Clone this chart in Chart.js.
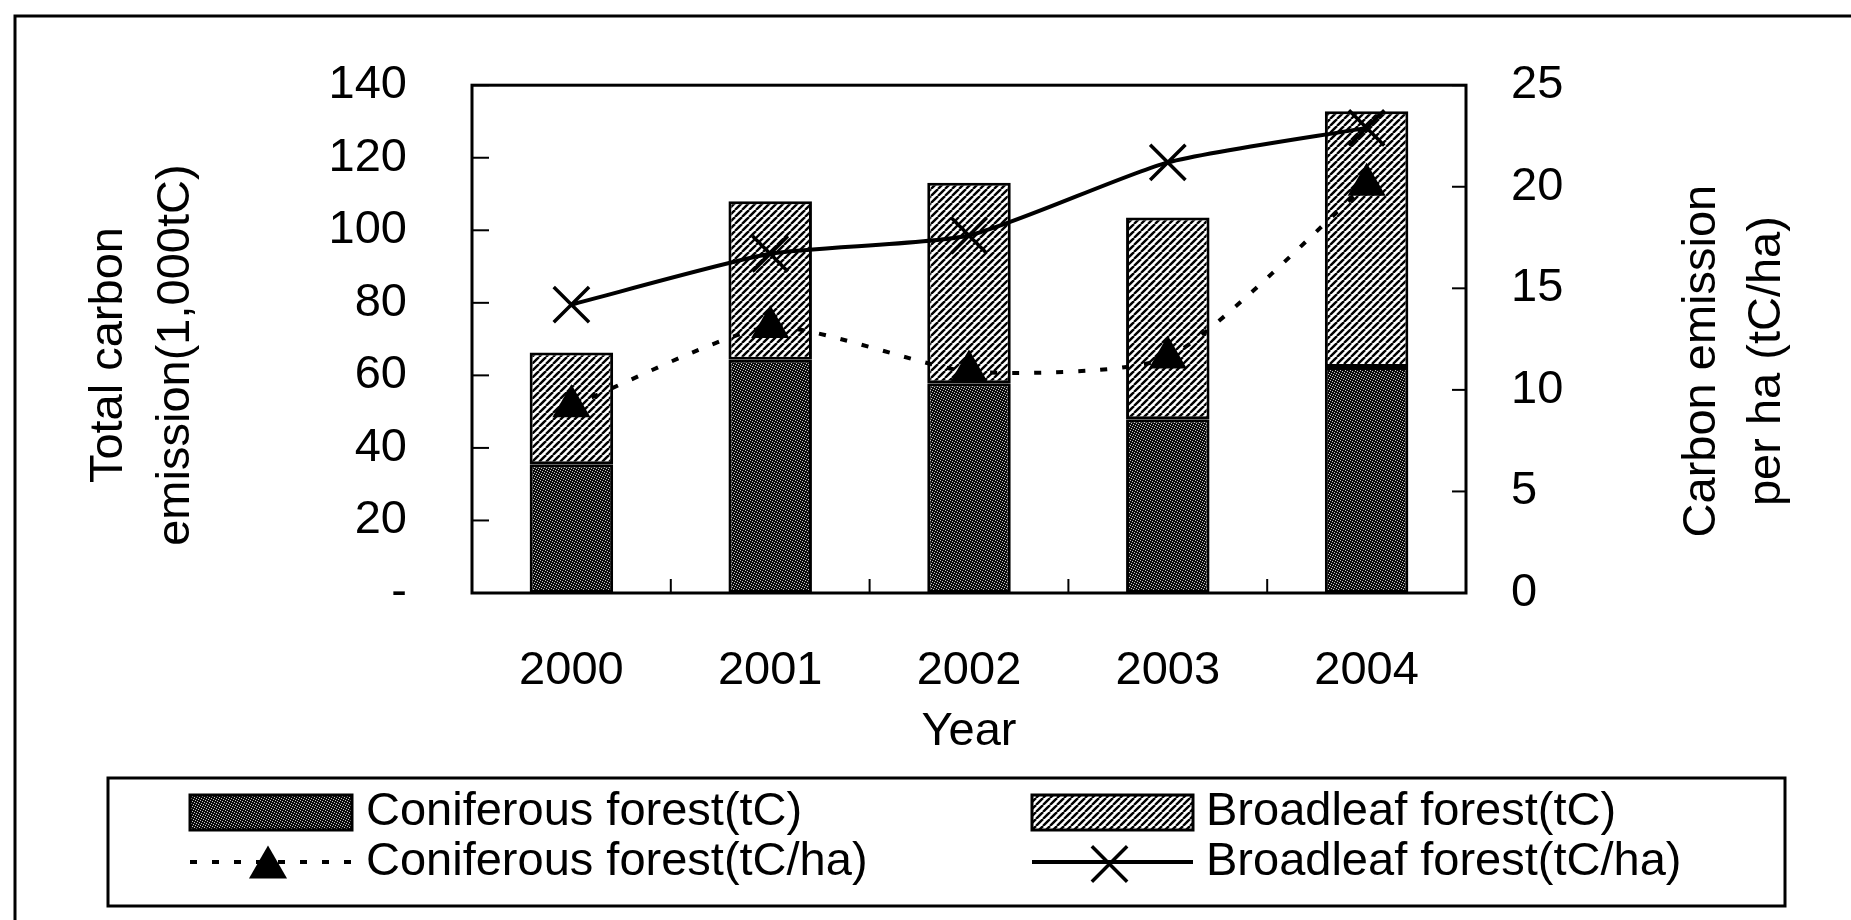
<!DOCTYPE html>
<html>
<head>
<meta charset="utf-8">
<script src="https://cdn.jsdelivr.net/npm/chart.js@4.4.1/dist/chart.umd.min.js"></script>
<style>
  html, body { margin: 0; padding: 0; background: #fff; }
  #wrap { position: relative; width: 1851px; height: 920px; }
</style>
</head>
<body>
<div id="wrap"><canvas id="c"></canvas></div>
<script>
// ---------- data ----------
const years = ['2000', '2001', '2002', '2003', '2004'];
const coniferousTotal = [35.5, 64.3, 57.8, 47.9, 62.3];   // 1,000 tC
const broadleafTotal  = [30.8, 43.7, 55.3, 55.6, 70.5];   // 1,000 tC
const coniferousPerHa = [9.2, 13.1, 10.9, 11.6, 20.1];    // tC/ha
const broadleafPerHa  = [14.2, 16.7, 17.6, 21.2, 22.9];   // tC/ha
const leftTickLabels  = ['-', '20', '40', '60', '80', '100', '120', '140'];
const rightTickLabels = ['0', '5', '10', '15', '20', '25'];
const seriesLabels = ['Coniferous forest(tC)', 'Broadleaf forest(tC)',
                      'Coniferous forest(tC/ha)', 'Broadleaf forest(tC/ha)'];
const leftTitle  = ['Total carbon', 'emission(1,000tC)'];
const rightTitle = ['Carbon emission', 'per ha (tC/ha)'];
const xTitle = 'Year';

// ---------- styles ----------
const FONT = "'Liberation Sans', Arial, Helvetica, sans-serif";
const FS = 47;

function makeStipple() {
  const c = document.createElement('canvas');
  c.width = 5; c.height = 5;
  const g = c.getContext('2d');
  g.fillStyle = '#0c0c0c'; g.fillRect(0, 0, 5, 5);
  g.fillStyle = '#c8c8c8';
  [[0,0],[2,1],[4,2],[1,3],[3,4]].forEach(p => g.fillRect(p[0], p[1], 1, 1));
  return g.createPattern(c, 'repeat');
}
function makeHatch() {
  const s = 7;
  const c = document.createElement('canvas');
  c.width = s; c.height = s;
  const g = c.getContext('2d');
  g.fillStyle = '#fff'; g.fillRect(0, 0, s, s);
  g.strokeStyle = '#000'; g.lineWidth = 2.4;
  for (let k = -1; k <= 1; k++) {
    g.beginPath(); g.moveTo(k * s, s); g.lineTo(k * s + s, 0); g.stroke();
  }
  return g.createPattern(c, 'repeat');
}
const stipple = makeStipple();
const hatch = makeHatch();

function line(ctx, x1, y1, x2, y2) {
  ctx.beginPath(); ctx.moveTo(x1, y1); ctx.lineTo(x2, y2); ctx.stroke();
}
function vtext(ctx, lines, xs, yc) {
  ctx.font = FS + 'px ' + FONT;
  ctx.fillStyle = '#000';
  ctx.textAlign = 'center';
  ctx.textBaseline = 'middle';
  lines.forEach((t, i) => {
    ctx.save(); ctx.translate(xs[i], yc); ctx.rotate(-Math.PI / 2);
    ctx.fillText(t, 0, 0); ctx.restore();
  });
}

const decor = {
  id: 'decor',
  beforeDraw(chart) {
    const ctx = chart.ctx;
    ctx.save(); ctx.fillStyle = '#fff'; ctx.fillRect(0, 0, chart.width, chart.height); ctx.restore();
  },
  afterDraw(chart) {
    const { ctx, chartArea: a, scales } = chart;
    const ds = chart.data.datasets;
    ctx.save();
    ctx.strokeStyle = '#000';
    ctx.setLineDash([]);
    // outer frame
    ctx.lineWidth = 3;
    ctx.beginPath(); ctx.moveTo(15, chart.height); ctx.lineTo(15, 16); ctx.lineTo(chart.width, 16); ctx.stroke();
    // plot box
    ctx.lineWidth = 3;
    ctx.strokeRect(a.left, a.top, a.right - a.left, a.bottom - a.top);
    // inward ticks
    ctx.lineWidth = 2;
    scales.y.ticks.forEach(t => { const py = scales.y.getPixelForValue(t.value); line(ctx, a.left, py, a.left + 17, py); });
    scales.y2.ticks.forEach(t => { const py = scales.y2.getPixelForValue(t.value); line(ctx, a.right - 14, py, a.right, py); });
    for (let i = 0; i < years.length - 1; i++) {
      const px = (scales.x.getPixelForValue(i) + scales.x.getPixelForValue(i + 1)) / 2;
      line(ctx, px, a.bottom, px, a.bottom - 14);
    }
    // axis titles
    const yc = (a.top + a.bottom) / 2;
    vtext(ctx, leftTitle, [109, 176], yc + 16);
    vtext(ctx, rightTitle, [1702, 1767], yc + 22);

    // legend
    ctx.lineWidth = 3;
    ctx.strokeRect(108, 778, 1785 - 108, 906 - 778);
    const rows = [812, 862];
    const cols = [{ x: 190, w: 162, tx: 366 }, { x: 1032, w: 161, tx: 1206 }];
    // bar swatches
    [0, 1].forEach(i => {
      const c = cols[i];
      ctx.fillStyle = ds[i].backgroundColor;
      ctx.fillRect(c.x, 795, c.w, 35);
      ctx.lineWidth = 3; ctx.strokeStyle = '#000';
      ctx.strokeRect(c.x, 795, c.w, 35);
    });
    // line swatches
    [2, 3].forEach((di, j) => {
      const c = cols[j];
      const d = ds[di];
      ctx.save();
      ctx.strokeStyle = d.borderColor;
      ctx.lineWidth = d.borderWidth;
      ctx.setLineDash(d.borderDash || []);
      line(ctx, c.x, rows[1], c.x + c.w, rows[1]);
      ctx.restore();
      ctx.save();
      ctx.fillStyle = d.pointBackgroundColor;
      ctx.strokeStyle = d.pointBorderColor;
      ctx.lineWidth = d.pointBorderWidth;
      const cx = c.x + c.w / 2 - 3;
      const cy = rows[1] + (d.pointStyle === 'triangle' ? d.pointRadius / 4 : 2);
      Chart.helpers.drawPoint(ctx, { pointStyle: d.pointStyle, radius: d.pointRadius, rotation: 0, borderWidth: d.pointBorderWidth }, cx, cy);
      ctx.restore();
    });
    // legend text
    ctx.font = FS + 'px ' + FONT;
    ctx.fillStyle = '#000';
    ctx.textAlign = 'left';
    ctx.textBaseline = 'middle';
    ctx.fillText(ds[0].label, cols[0].tx, rows[0]);
    ctx.fillText(ds[1].label, cols[1].tx, rows[0]);
    ctx.fillText(ds[2].label, cols[0].tx, rows[1]);
    ctx.fillText(ds[3].label, cols[1].tx, rows[1]);
    ctx.restore();
  }
};

const tickFont = { family: FONT, size: FS };

new Chart(document.getElementById('c'), {
  data: {
    labels: years,
    datasets: [
      { type: 'bar', label: seriesLabels[0], data: coniferousTotal, yAxisID: 'y', stack: 's',
        backgroundColor: stipple, borderColor: '#000', borderWidth: 3, borderSkipped: false,
        barPercentage: 0.42, categoryPercentage: 1.0, order: 1 },
      { type: 'bar', label: seriesLabels[1], data: broadleafTotal, yAxisID: 'y', stack: 's',
        backgroundColor: hatch, borderColor: '#000', borderWidth: 3, borderSkipped: false,
        barPercentage: 0.42, categoryPercentage: 1.0, order: 1 },
      { type: 'line', label: seriesLabels[2], data: coniferousPerHa, yAxisID: 'y2',
        borderColor: '#000', borderWidth: 4, borderDash: [7, 15], tension: 0.2, fill: false,
        pointStyle: 'triangle', pointRadius: 22, pointBackgroundColor: '#000', pointBorderColor: '#000',
        pointBorderWidth: 0, clip: false, order: 0 },
      { type: 'line', label: seriesLabels[3], data: broadleafPerHa, yAxisID: 'y2',
        borderColor: '#000', borderWidth: 4, tension: 0.2, fill: false,
        pointStyle: 'crossRot', pointRadius: 25, pointBackgroundColor: '#000', pointBorderColor: '#000',
        pointBorderWidth: 3.5, clip: false, order: 0 }
    ]
  },
  options: {
    responsive: true,
    maintainAspectRatio: false,
    animation: false,
    layout: { padding: { top: 80, left: 0, right: 0, bottom: 0 } },
    plugins: { legend: { display: false }, tooltip: { enabled: false } },
    scales: {
      x: {
        stacked: true, offset: true,
        grid: { display: false }, border: { display: false },
        ticks: { font: tickFont, color: '#000', padding: 42, maxRotation: 0, autoSkip: false },
        title: { display: true, text: xTitle, font: tickFont, color: '#000', padding: { top: 0, bottom: 160 } },
        afterFit(s) { s.height = 327; }
      },
      y: {
        position: 'left', stacked: true, min: 0, max: 140,
        grid: { display: false }, border: { display: false },
        ticks: { stepSize: 20, padding: 57, font: tickFont, color: '#000',
                 callback: (v, i) => leftTickLabels[i] },
        afterFit(s) { s.width = 472; }
      },
      y2: {
        position: 'right', min: 0, max: 25,
        grid: { display: false }, border: { display: false },
        ticks: { stepSize: 5, padding: 37, font: tickFont, color: '#000',
                 callback: (v, i) => rightTickLabels[i] },
        afterFit(s) { s.width = 1851 - 1466; }
      }
    }
  },
  plugins: [decor]
});
</script>
</body>
</html>
